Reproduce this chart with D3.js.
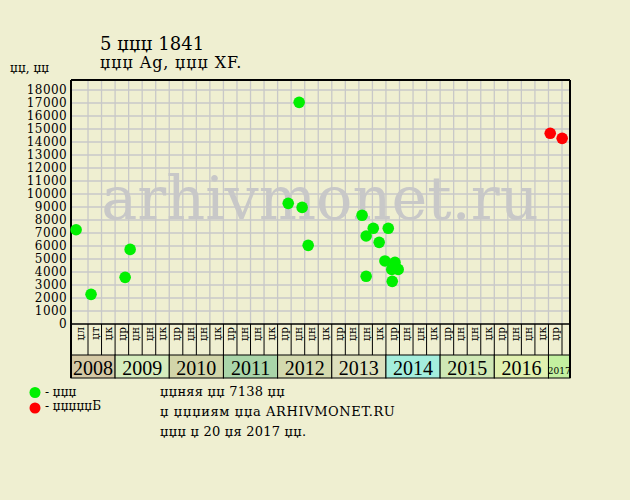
<!DOCTYPE html>
<html><head><meta charset="utf-8">
<script src="https://cdn.jsdelivr.net/npm/d3@7"></script>
<style>body{margin:0;background:#efefd1}svg{display:block}</style>
</head><body><svg id="c" width="630" height="500"></svg>
<script>
// ---- data ----
const titleLine1 = "5 џџџ 1841";
const titleLine2 = "џџџ Ag, џџџ XF.";
const yUnitLabel = "џџ, џџ";
const watermark = "arhivmonet.ru";
const years = [2008, 2009, 2010, 2011, 2012, 2013, 2014, 2015, 2016, 2017];
const yearColors = ["#d5c9a5", "#d5ecbd", "#d2d5a9", "#a9d5a9", "#d3d9ae", "#dde0bd", "#a4eedd", "#cfe8b5", "#e1f0b0", "#c3f0a0"];
const yearColumnLabels = [
  ["џл", "џт", "џк"],
  ["џр", "џн", "џн", "џк"],
  ["џр", "џн", "џн", "џк"],
  ["џр", "џн", "џн", "џк"],
  ["џр", "џн", "џн", "џк"],
  ["џр", "џн", "џн", "џк"],
  ["џр", "џн", "џн", "џк"],
  ["џр", "џн", "џн", "џк"],
  ["џр", "џн", "џн", "џк"],
  ["џр"]
];
const yTicks = d3.range(0, 18001, 1000);
const greenDates = ["2008-04-28", "2008-07-22", "2009-03-08", "2009-04-11", "2012-03-12", "2012-05-25", "2012-06-14", "2012-07-25",
  "2013-07-23", "2013-08-20", "2013-08-20", "2013-10-07", "2013-11-16", "2013-12-25", "2014-01-17", "2014-02-09", "2014-02-12", "2014-03-01", "2014-03-23"];
const greenValues = [7250, 2280, 3590, 5740, 9280, 17050, 8970, 6050,
  8360, 6770, 3670, 7360, 6280, 4850, 7360, 4200, 3280, 4740, 4200];
const redDates = ["2017-01-13", "2017-04-02"];
const redValues = [14670, 14280];
const legendLabels = ["- џџџ", "- џџџџџБ"];
const legendColors = ["#00f000", "#ff0000"];
const noteLines = ["џџняя џџ 7138 џџ", "џ џџџиям џџа ARHIVMONET.RU", "џџџ џ 20 џя 2017 џџ."];

// ---- layout ----
const bg = "#efefd1";
const svg = d3.select("#c");
svg.append("rect").attr("width", 630).attr("height", 500).attr("fill", bg);

const pTop = 80, pBottom = 324, pLeft = 71, pRight = 570;
const labelBottom = 355, bandBottom = 378;
const totalCols = d3.sum(yearColumnLabels, d => d.length); // 36
const x = d3.scaleLinear().domain([0, 1, totalCols + 0.59]).range([pLeft, 88, pRight]);
const y = d3.scaleLinear().domain([0, 18000]).range([pBottom, 90]);

function toU(s) {
  const d = new Date(s + "T00:00:00");
  const yy = d.getFullYear(), m = d.getMonth();
  const dim = new Date(yy, m + 1, 0).getDate();
  return 3 + (yy - 2009) * 4 + (m + (d.getDate() - 1) / dim) / 3;
}

const serif = "'DejaVu Serif', serif";
const serif2 = "'Liberation Serif', serif";

// gridlines
const g = svg.append("g");
g.selectAll("line.h").data(yTicks.slice(1)).join("line")
  .attr("x1", pLeft).attr("x2", pRight).attr("y1", d => y(d)).attr("y2", d => y(d))
  .attr("stroke", "#c8c8c8").attr("stroke-width", 1.3);
g.selectAll("line.v").data(d3.range(1, totalCols + 1)).join("line")
  .attr("x1", d => x(d)).attr("x2", d => x(d)).attr("y1", pTop).attr("y2", pBottom)
  .attr("stroke", "#c8c8c8").attr("stroke-width", 1.3);

// watermark
svg.append("text").attr("x", 320).attr("y", 219).attr("text-anchor", "middle")
  .attr("font-family", serif).attr("font-size", 60.5).attr("fill", "#c8c8c8").text(watermark);

// y axis
const yAxis = d3.axisLeft(y).tickValues(yTicks).tickSize(0).tickPadding(4).tickFormat(d3.format("d"));
const ya = svg.append("g").attr("transform", `translate(${pLeft},0)`).call(yAxis);
ya.select(".domain").remove();
ya.selectAll("text").attr("font-family", serif).attr("font-size", 12).attr("fill", "#000")
  .attr("letter-spacing", 0.4);

// column labels
let cols = [];
yearColumnLabels.forEach((labs, yi) => labs.forEach(l => cols.push({ label: l, year: years[yi] })));
const startU = [];
let acc = 0;
yearColumnLabels.forEach(l => { startU.push(acc); acc += l.length; });

svg.selectAll("text.col").data(cols).join("text")
  .attr("transform", (d, i) => `translate(${(x(i) + x(i + 1)) / 2 + 4},${pBottom + 3}) rotate(-90)`)
  .attr("text-anchor", "end").attr("font-family", serif).attr("font-size", 10.5)
  .text(d => d.label);

svg.selectAll("line.cd").data(d3.range(1, totalCols + 1)).join("line")
  .attr("x1", d => x(d)).attr("x2", d => x(d)).attr("y1", pBottom).attr("y2", labelBottom)
  .attr("stroke", "#000").attr("stroke-width", 1);

// year bands
const bands = years.map((yr, i) => ({ yr, s: startU[i], e: i === years.length - 1 ? totalCols + 0.59 : startU[i] + yearColumnLabels[i].length, c: yearColors[i] }));
svg.selectAll("rect.band").data(bands).join("rect")
  .attr("x", d => x(d.s)).attr("width", d => x(d.e) - x(d.s))
  .attr("y", labelBottom).attr("height", bandBottom - labelBottom)
  .attr("fill", d => d.c).attr("stroke", "#000").attr("stroke-width", 1);
svg.selectAll("text.band").data(bands).join("text")
  .attr("x", d => (x(d.s) + x(d.e)) / 2).attr("y", d => d.yr === 2017 ? 374 : 375)
  .attr("text-anchor", "middle").attr("font-family", d => d.yr === 2017 ? serif : serif2)
  .attr("font-size", d => d.yr === 2017 ? 9 : 20)
  .text(d => d.yr);

// frame
svg.append("line").attr("x1", pLeft).attr("x2", pRight).attr("y1", pTop).attr("y2", pTop).attr("stroke", "#000").attr("stroke-width", 2);
svg.append("line").attr("x1", pLeft).attr("x2", pRight).attr("y1", pBottom).attr("y2", pBottom).attr("stroke", "#000").attr("stroke-width", 1.5);
svg.append("line").attr("x1", pLeft).attr("x2", pLeft).attr("y1", pTop).attr("y2", bandBottom).attr("stroke", "#000").attr("stroke-width", 2);
svg.append("line").attr("x1", pRight).attr("x2", pRight).attr("y1", pTop).attr("y2", bandBottom).attr("stroke", "#000").attr("stroke-width", 2);

// points
const greenPts = greenDates.map((d, i) => ({ u: toU(d), v: greenValues[i] }));
const redPts = redDates.map((d, i) => ({ u: toU(d), v: redValues[i] }));
svg.selectAll("circle.g").data(greenPts).join("circle")
  .attr("cx", d => x(d.u)).attr("cy", d => y(d.v)).attr("r", 5.8).attr("fill", legendColors[0]);
svg.selectAll("circle.r").data(redPts).join("circle")
  .attr("cx", d => x(d.u)).attr("cy", d => y(d.v)).attr("r", 5.8).attr("fill", legendColors[1]);

// titles
svg.append("text").attr("x", 100).attr("y", 50).attr("font-family", serif).attr("font-size", 18).text(titleLine1);
svg.append("text").attr("x", 100).attr("y", 68).attr("font-family", serif).attr("font-size", 16)
  .attr("letter-spacing", 0.8).text(titleLine2);
svg.append("text").attr("x", 10).attr("y", 72).attr("font-family", serif).attr("font-size", 12).text(yUnitLabel);

// legend
legendLabels.forEach((l, i) => {
  svg.append("circle").attr("cx", 35).attr("cy", 392.5 + i * 15.5).attr("r", 5.5).attr("fill", legendColors[i]);
  svg.append("text").attr("x", 45).attr("y", 396 + i * 14).attr("font-family", serif).attr("font-size", 12).text(l);
});

// notes
noteLines.forEach((l, i) => {
  svg.append("text").attr("x", 160).attr("y", 396 + i * 19.8).attr("font-family", serif).attr("font-size", 13)
    .attr("letter-spacing", i === 1 ? 0.6 : 0.2).text(l);
});
</script></body></html>
